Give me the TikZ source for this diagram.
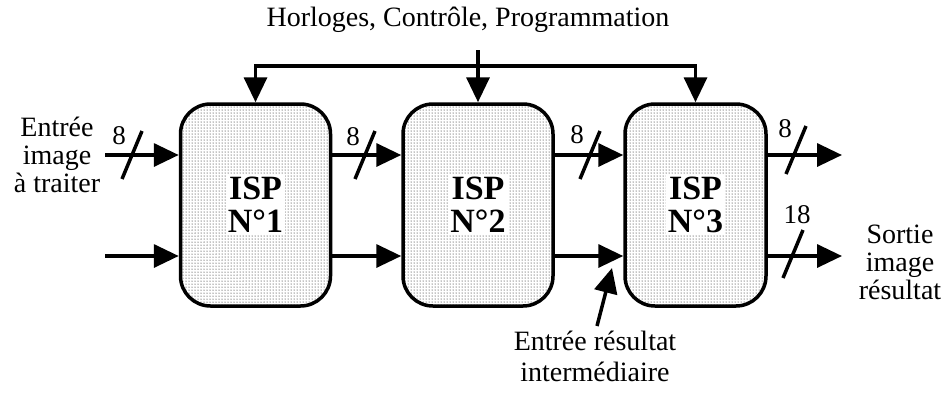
\documentclass[tikz,border=0pt]{standalone}
\usepackage{fontspec}
\setmainfont{Liberation Serif}
\usetikzlibrary{arrows.meta,patterns,calc}

\tikzset{
  isp/.style={draw, line width=3.5pt, rounded corners=30pt, pattern=dots,
    minimum width=150pt, minimum height=202pt, inner sep=0pt},
  isptext/.style={fill=white, inner sep=2pt, align=center,
    font=\fontsize{34}{33}\selectfont\bfseries},
  sig/.style={line width=3.5pt, -{Triangle[length=25pt,width=23pt]}},
  txt/.style={align=center, font=\fontsize{28}{28}\selectfont},
  num/.style={font=\fontsize{27}{27}\selectfont},
}
% trait oblique de largeur de bus
\newcommand{\busslash}[1]{%
  \draw[line width=3.5pt] ($(#1)+(-10,24)$) -- ($(#1)+(10,-24)$);}

\begin{document}
\begin{tikzpicture}[x=1pt,y=-1pt]
    \useasboundingbox (0,0) rectangle (945,392);
    % les trois processeurs
    \node[isp] (isp1) at (255.5,205) {};
    \node[isp] (isp2) at (478,205) {};
    \node[isp, minimum width=141pt] (isp3) at (695.5,205) {};
    \node[isptext] (t1) at (isp1) {ISP\\N°1};
    \node[isptext] (t2) at (isp2) {ISP\\N°2};
    \node[isptext] (t3) at (isp3) {ISP\\N°3};
    % bus de controle
    \node[txt] (ctrl) at (468,20) {Horloges, Contrôle, Programmation};
    \coordinate (bus) at (478,50);
    \coordinate (h) at (0,66);
    \draw[sig] (isp2.north |- h) -| (isp1.north);
    \draw[sig] (isp2.north |- h) -| (isp3.north);
    \draw[sig] (bus) -- (isp2.north);
    % entrees
    \node[txt] (entree) at (57,155) {Entrée\\image\\à traiter};
    \coordinate (in1) at (105,155);
    \coordinate (in2) at (105,256);
    \draw[sig] (in1) -- (in1 -| isp1.west);
    \draw[sig] (in2) -- (in2 -| isp1.west);
    % liaisons entre processeurs
    \draw[sig] (isp1.east |- in1) -- (isp2.west |- in1);
    \draw[sig] (isp1.east |- in2) -- (isp2.west |- in2);
    \draw[sig] (isp2.east |- in1) -- (isp3.west |- in1);
    \draw[sig] (isp2.east |- in2) -- (isp3.west |- in2);
    % sorties
    \coordinate (out1) at (842,155);
    \coordinate (out2) at (842,256);
    \draw[sig] (isp3.east |- in1) -- (out1);
    \draw[sig] (isp3.east |- in2) -- (out2);
    \node[txt] (sortie) at (900,262) {Sortie\\image\\résultat};
    % resultat intermediaire
    \coordinate (inter) at (597,326);
    \coordinate (intertip) at (612,268);
    \draw[sig] (inter) -- (intertip);
    \node[txt, font=\fontsize{28}{31}\selectfont] (resint) at (595,356) {Entrée résultat\\intermédiaire};
    % largeurs de bus
    \coordinate (b1) at (132,155);
    \coordinate (b2) at (365,155);
    \coordinate (b3) at (590,155);
    \coordinate (b4) at (796,150);
    \coordinate (b5) at (793,254);
    \busslash{b1} \busslash{b2} \busslash{b3} \busslash{b4} \busslash{b5}
    \node[num] (n1) at ($(b1)+(-13,-19)$) {8};
    \node[num] (n2) at ($(b2)+(-12,-18)$) {8};
    \node[num] (n3) at ($(b3)+(-13,-20)$) {8};
    \node[num] (n4) at ($(b4)+(-11,-21)$) {8};
    \node[num] (n5) at ($(b5)+(4,-39)$) {18};
\end{tikzpicture}
\end{document}
